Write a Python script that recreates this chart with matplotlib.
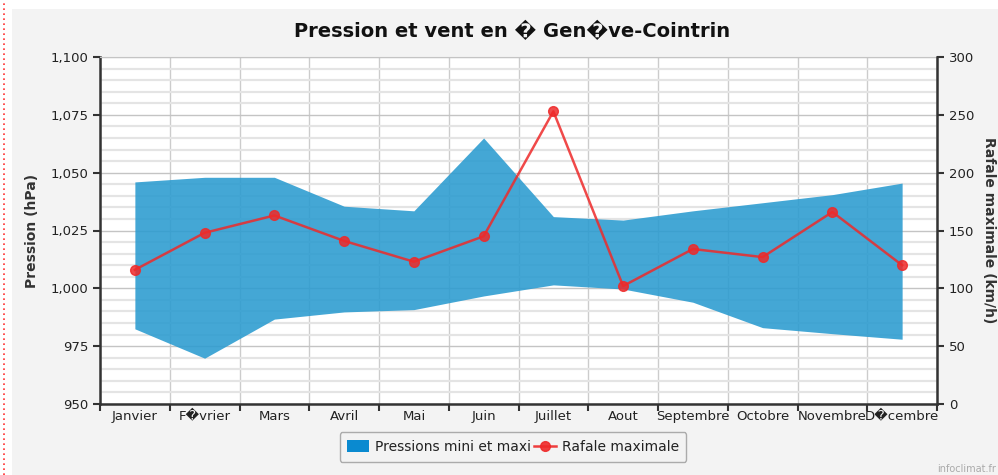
import matplotlib
matplotlib.use("Agg")
import matplotlib.pyplot as plt
from matplotlib.patches import Rectangle, Patch
from matplotlib.lines import Line2D
from matplotlib.ticker import FuncFormatter, MultipleLocator
import numpy as np

# month labels (garbled accents kept as in source)
months = ["Janvier", "F\ufffdvrier", "Mars", "Avril", "Mai", "Juin",
          "Juillet", "Aout", "Septembre", "Octobre", "Novembre", "D\ufffdcembre"]
# pressure range in hPa
p_max = [1046, 1048, 1048, 1035.5, 1033.5, 1065, 1031, 1029.5, 1033.5, 1037, 1040.5, 1045.5]
p_min = [982.5, 969.8, 986.7, 989.8, 990.8, 996.7, 1001.5, 999.7, 994, 983, 980.4, 978]
# max gust in km/h
gust = [116, 148, 163, 141, 123, 145, 253, 102, 134, 127, 166, 120]

fig = plt.figure(figsize=(9.98, 4.75), dpi=100)
fig.patch.set_facecolor("white")
fig.patches.append(Rectangle((12/998, 0), 1, 1 - 9/475, transform=fig.transFigure,
                             facecolor="#f3f3f3", edgecolor="none", zorder=-10))
fig.add_artist(Line2D([3.5/998, 3.5/998], [0, 1], transform=fig.transFigure,
                      color="#ff3030", lw=1.2, ls=(0, (1, 2))))

ax = fig.add_axes([100/998, 71/475, 837/998, 347/475])
ax.set_facecolor("white")
x = np.arange(len(months))

ax.fill_between(x, p_min, p_max, color="#2a9bd0", alpha=0.88, lw=0, zorder=3)
ax.set_xlim(-0.5, 11.5)
ax.set_ylim(950, 1100)
ax.yaxis.set_major_locator(MultipleLocator(25))
ax.yaxis.set_minor_locator(MultipleLocator(5))
ax.yaxis.set_major_formatter(FuncFormatter(lambda v, p: f"{int(v):,}"))
ax.grid(which="major", axis="y", color="#c4c4c4", lw=1.0, zorder=1)
ax.grid(which="minor", axis="y", color="#e4e4e4", lw=1.6, zorder=0)
ax.set_xticks(np.arange(-0.5, 12, 1))
ax.set_xticklabels([])
ax.set_xticks(x, minor=True)
ax.set_xticklabels(months, minor=True, fontsize=9.5, color="#222222")
ax.tick_params(axis="x", which="minor", length=0, pad=4)
ax.tick_params(axis="x", which="major", length=5, width=1.5, color="#333333")
ax.grid(which="major", axis="x", color="#cccccc", lw=1.0, zorder=1)
ax.tick_params(axis="y", which="major", length=5, width=1.5, color="#333333",
               labelsize=9.5, labelcolor="#222222")
ax.tick_params(axis="y", which="minor", length=0)
for s in ["left", "bottom"]:
    ax.spines[s].set_color("#333333")
    ax.spines[s].set_linewidth(1.8)
ax.spines["top"].set_color("#c4c4c4")
ax.spines["right"].set_visible(False)
ax.set_ylabel("Pression (hPa)", fontsize=10, fontweight="bold", color="#333333", labelpad=8)

ax2 = ax.twinx()
ax2.plot(x, gust, color="#ee2a2a", alpha=0.85, lw=1.8, marker="o", ms=7, zorder=5)
ax2.set_ylim(0, 300)
ax2.yaxis.set_major_locator(MultipleLocator(50))
ax2.tick_params(axis="y", length=5, width=1.5, color="#333333",
                labelsize=9.5, labelcolor="#222222")
ax2.spines["right"].set_color("#333333")
ax2.spines["right"].set_linewidth(1.8)
for s in ["left", "bottom", "top"]:
    ax2.spines[s].set_visible(False)
ax2.set_ylabel("Rafale maximale (km/h)", fontsize=10, fontweight="bold", color="#333333",
               rotation=270, labelpad=16)

fig.text(0.513, 1 - 31/475, "Pression et vent en \ufffd Gen\ufffdve-Cointrin",
         ha="center", va="center", fontsize=14, fontweight="bold", color="#111111")

handles = [Patch(facecolor="#0a8ad0", edgecolor="none"),
           Line2D([], [], color="#ee2a2a", lw=1.8, marker="o", ms=7, alpha=0.9)]
leg = fig.legend(handles, ["Pressions mini et maxi", "Rafale maximale"], ncol=2,
                 loc="center", bbox_to_anchor=(513/998, 1 - 447/475), fontsize=10,
                 frameon=True, fancybox=True, handlelength=1.6, handleheight=1.0,
                 handletextpad=0.4, columnspacing=0.2, borderpad=0.55)
leg.get_frame().set_edgecolor("#999999")
leg.get_frame().set_facecolor("#f3f3f3")
for t in leg.get_texts():
    t.set_color("#222222")

fig.text(996/998, 1 - 469/475, "infoclimat.fr", ha="right", va="center",
         fontsize=7, color="#aaaaaa")

fig.savefig("out.png", dpi=100)
